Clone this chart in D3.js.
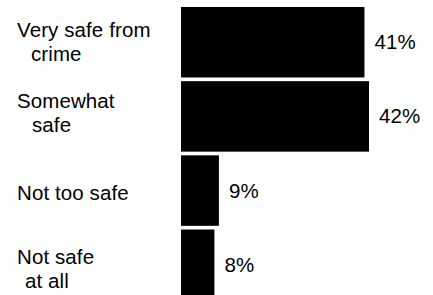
<!DOCTYPE html>
<html>
<head>
<meta charset="utf-8">
<script src="https://cdn.jsdelivr.net/npm/d3@7"></script>
<style>
	body { margin: 0; background: #ffffff; }
	text { font-family: "Liberation Sans", Arial, sans-serif; font-size: 20.5px; fill: #000; letter-spacing: 0.1px; }
</style>
</head>
<body>
<script>
// data
var categories = ["Very safe from crime", "Somewhat safe", "Not too safe", "Not safe at all"];
var labelLines = [["Very safe from", "crime"], ["Somewhat", "safe"], ["Not too safe"], ["Not safe", "at all"]];
var values = [41, 42, 9, 8];
var valueLabels = ["41%", "42%", "9%", "8%"];

// layout
var width = 433, height = 295;
var barLeft = 181;
var lineIndent = [14, 15, 0, 8];
var lineShift = [-5, -8, 9, -1];

var svg = d3.select("body").append("svg").attr("width", width).attr("height", height);

var x = d3.scaleLinear().domain([0, 42]).range([178, 369]);
var y = d3.scaleBand().domain(categories).range([7, 300]).paddingInner(0.05).paddingOuter(0);

svg.selectAll("rect.bar")
	.data(categories)
	.enter()
	.append("rect")
	.attr("class", "bar")
	.attr("x", barLeft)
	.attr("y", function(d) { return y(d); })
	.attr("width", function(d, i) { return x(values[i]) - barLeft; })
	.attr("height", y.bandwidth())
	.attr("fill", "#000");

svg.selectAll("text.value")
	.data(categories)
	.enter()
	.append("text")
	.attr("class", "value")
	.attr("x", function(d, i) { return x(values[i]) + 10; })
	.attr("y", function(d) { return y(d) + y.bandwidth() / 2 + 7; })
	.text(function(d, i) { return valueLabels[i]; });

var lab = svg.selectAll("text.cat")
	.data(categories)
	.enter()
	.append("text")
	.attr("class", "cat");

lab.each(function(d, i) {
	var c = y(d) + y.bandwidth() / 2 + lineShift[i];
	var t = d3.select(this);
	labelLines[i].forEach(function(s, j) {
		t.append("tspan")
			.attr("x", 17 + (j > 0 ? lineIndent[i] : 0))
			.attr("y", c + j * 24)
			.text(s);
	});
});
</script>
</body>
</html>
